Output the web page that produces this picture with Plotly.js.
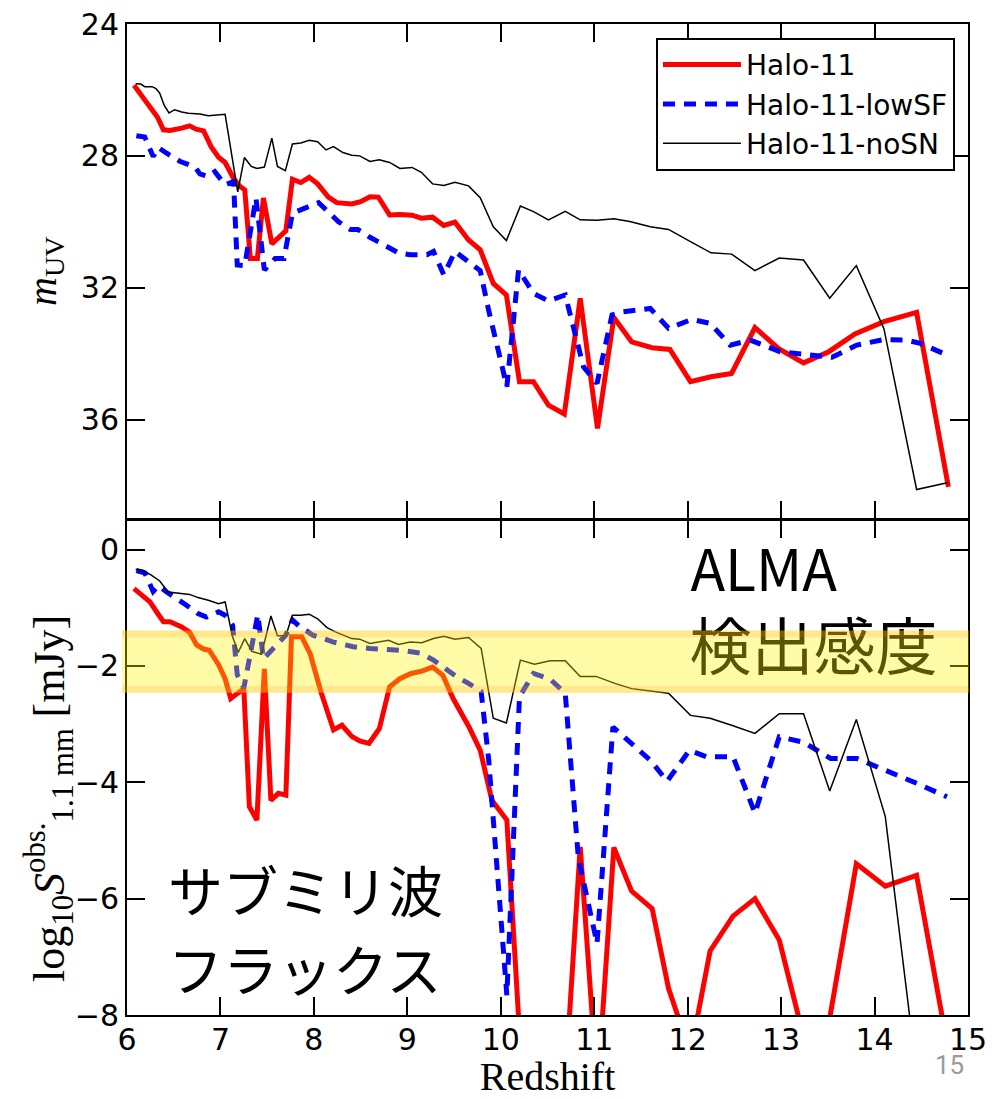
<!DOCTYPE html>
<html>
<head>
<meta charset="utf-8">
<script src="https://cdn.plot.ly/plotly-3.0.1.min.js"></script>
<style>
  html, body { margin: 0; padding: 0; background: #ffffff; }
  #chart { width: 1007px; height: 1099px; }
</style>
</head>
<body>
<div id="chart"></div>
<script>
// ---- Halo-11 (fiducial run) ----
const zHalo11Top = [6.075,6.157,6.246,6.325,6.39,6.46,6.585,6.67,6.74,6.82,6.90,6.98,7.05,7.14,7.21,7.26,7.32,7.395,7.46,7.55,7.70,7.77,7.86,7.95,8.04,8.155,8.245,8.405,8.50,8.60,8.69,8.81,8.92,9.05,9.15,9.27,9.39,9.51,9.655,9.78,9.92,10.06,10.20,10.35,10.51,10.68,10.85,11.035,11.21,11.40,11.62,11.81,12.03,12.25,12.47,12.72,12.97,13.24,13.51,13.79,14.10,14.45,14.79];
const mUVHalo11 = [25.86,26.18,26.55,26.82,27.21,27.23,27.16,27.09,27.19,27.24,27.72,28.04,28.20,28.68,28.93,29.03,31.11,31.11,29.28,30.67,30.27,28.71,28.81,28.65,28.85,29.25,29.42,29.46,29.39,29.24,29.25,29.79,29.78,29.80,29.89,29.86,30.11,30.01,30.55,30.85,31.87,32.22,34.85,34.85,35.56,35.83,32.32,36.27,32.90,33.64,33.82,33.87,34.85,34.70,34.60,33.21,33.84,34.28,33.94,33.40,33.03,32.75,38.04];
const zHalo11Bot = [6.075,6.157,6.246,6.325,6.39,6.46,6.585,6.67,6.745,6.82,6.88,6.98,7.05,7.11,7.21,7.25,7.31,7.39,7.47,7.54,7.62,7.70,7.76,7.87,7.96,8.08,8.21,8.30,8.405,8.49,8.59,8.70,8.81,8.92,9.04,9.155,9.27,9.38,9.49,9.66,9.78,9.905,10.065,10.20,10.35,10.51,10.68,10.85,11.035,11.21,11.40,11.62,11.795,12.03,12.24,12.485,12.72,12.98,13.24,13.51,13.805,14.115,14.45,14.79];
const logSHalo11 = [-0.67,-0.785,-0.90,-1.09,-1.24,-1.24,-1.33,-1.42,-1.64,-1.71,-1.73,-1.98,-2.22,-2.56,-2.45,-2.39,-4.42,-4.65,-2.05,-4.31,-4.19,-4.22,-1.50,-1.50,-1.79,-2.47,-3.10,-3.02,-3.21,-3.29,-3.33,-3.08,-2.36,-2.22,-2.13,-2.09,-2.02,-2.16,-2.56,-3.05,-3.45,-4.31,-4.65,-8.3,-10.0,-10.5,-9.4,-5.11,-9.3,-5.12,-5.87,-6.17,-7.54,-8.66,-6.90,-6.30,-6.00,-6.71,-8.37,-8.15,-5.40,-5.785,-5.60,-8.62];

// ---- Halo-11-lowSF ----
const zLowSFTop = [6.10,6.19,6.28,6.335,6.425,6.57,6.73,6.78,6.87,6.94,7.05,7.14,7.18,7.26,7.38,7.47,7.585,7.68,7.77,7.85,7.94,8.05,8.17,8.26,8.39,8.47,8.60,8.69,8.82,8.905,9.03,9.21,9.28,9.39,9.51,9.655,9.78,9.87,10.03,10.065,10.19,10.35,10.51,10.69,10.885,11.03,11.19,11.31,11.60,11.795,12.045,12.24,12.455,12.67,12.99,13.38,13.545,13.81,14.10,14.35,14.49,14.775];
const mUVLowSF = [27.39,27.43,28.02,27.75,27.92,28.17,28.34,28.55,28.63,28.48,28.88,28.78,31.31,31.33,29.28,31.46,31.11,31.11,29.74,29.64,29.54,29.42,29.74,29.99,30.23,30.23,30.47,30.60,30.80,30.94,31.00,31.00,30.90,31.61,30.90,31.21,31.48,32.68,34.55,35.0,31.46,32.17,32.40,32.22,34.40,34.90,32.83,32.73,32.63,33.23,32.96,33.08,33.74,33.59,33.94,34.07,34.11,33.74,33.57,33.59,33.69,34.04];
const zLowSFBot = [6.10,6.19,6.28,6.335,6.425,6.57,6.64,6.76,6.85,6.98,7.05,7.13,7.18,7.25,7.40,7.46,7.57,7.70,7.77,7.85,7.99,8.21,8.42,8.60,8.92,9.14,9.28,9.40,9.53,9.655,9.79,9.87,10.03,10.065,10.20,10.35,10.53,10.69,10.83,11.03,11.20,11.42,11.60,11.78,12.02,12.20,12.485,12.72,12.98,13.24,13.53,13.81,14.06,14.30,14.455,14.775];
const logSLowSF = [-0.36,-0.40,-0.72,-0.62,-0.73,-0.87,-0.96,-1.10,-1.16,-1.07,-1.13,-1.30,-2.15,-2.38,-1.12,-1.88,-1.70,-1.47,-1.21,-1.33,-1.47,-1.59,-1.67,-1.70,-1.73,-1.78,-1.90,-2.04,-2.19,-2.30,-2.44,-3.6,-6.94,-7.66,-2.53,-2.13,-2.23,-2.47,-5.3,-6.77,-3.05,-3.36,-3.62,-3.98,-3.45,-3.56,-3.56,-4.53,-3.22,-3.31,-3.59,-3.59,-3.76,-3.90,-4.02,-4.25];

// ---- Halo-11-noSN ----
const zNoSNTop = [6.093,6.147,6.19,6.27,6.31,6.35,6.40,6.45,6.51,6.585,6.656,6.78,6.87,6.977,7.05,7.185,7.256,7.33,7.39,7.47,7.55,7.61,7.695,7.77,7.86,7.95,8.04,8.13,8.21,8.31,8.405,8.49,8.60,8.70,8.81,8.92,9.05,9.15,9.27,9.39,9.51,9.655,9.78,9.92,10.06,10.21,10.35,10.51,10.69,10.85,11.03,11.21,11.38,11.60,11.795,12.03,12.25,12.47,12.72,12.98,13.24,13.52,13.805,14.10,14.45,14.79];
const mUVNoSN = [25.81,25.82,25.90,25.90,25.96,26.10,26.48,26.70,26.60,26.67,26.71,26.73,26.78,26.76,26.74,29.09,28.05,28.32,28.38,28.34,27.46,28.32,28.45,27.64,27.61,27.53,27.57,27.82,27.72,27.90,27.98,28.00,28.17,28.12,28.20,28.38,28.35,28.50,28.85,28.90,28.80,28.91,29.27,30.15,30.57,29.52,29.69,29.94,29.68,29.94,29.95,29.91,29.99,30.15,30.23,30.60,30.94,30.98,31.48,31.10,31.16,32.32,31.33,33.24,38.12,37.91];
const zNoSNBot = [6.093,6.175,6.26,6.35,6.44,6.55,6.67,6.76,6.87,6.98,7.05,7.13,7.19,7.26,7.335,7.44,7.54,7.61,7.70,7.77,7.86,7.95,8.04,8.14,8.23,8.405,8.49,8.60,8.80,8.905,9.03,9.155,9.28,9.39,9.51,9.655,9.79,9.92,10.06,10.21,10.36,10.53,10.69,10.85,11.02,11.22,11.40,11.60,11.795,12.03,12.24,12.47,12.72,12.98,13.24,13.52,13.805,14.115,14.45,14.79];
const logSNoSN = [-0.34,-0.36,-0.44,-0.54,-0.73,-0.745,-0.77,-0.825,-0.87,-0.93,-0.90,-1.50,-1.77,-1.53,-1.75,-1.80,-1.14,-1.48,-1.48,-1.13,-1.13,-1.11,-1.19,-1.34,-1.415,-1.53,-1.54,-1.615,-1.56,-1.63,-1.59,-1.60,-1.53,-1.49,-1.54,-1.51,-1.70,-2.90,-2.98,-1.90,-1.97,-1.91,-1.91,-2.18,-2.18,-2.30,-2.39,-2.43,-2.47,-2.85,-2.90,-3.02,-3.16,-2.82,-2.82,-4.15,-2.92,-4.59,-9.0,-9.3];

// ---- axes ----
const redshiftTicks = [6,7,8,9,10,11,12,13,14,15];
const mUVTicks = [24,28,32,36];
const logSTicks = [0,-2,-4,-6,-8];

// ALMA sensitivity range, log10 S [mJy]
const almaRangeHigh = -1.39;
const almaRangeLow = -2.46;

const runs = [
  { name: 'Halo-11',       zTop: zHalo11Top, mUV: mUVHalo11, zBot: zHalo11Bot, logS: logSHalo11,
    line: { color: '#ff0000', width: 5 } },
  { name: 'Halo-11-lowSF', zTop: zLowSFTop,  mUV: mUVLowSF,  zBot: zLowSFBot,  logS: logSLowSF,
    line: { color: '#0000ff', width: 5, dash: '12px,9px' } },
  { name: 'Halo-11-noSN',  zTop: zNoSNTop,   mUV: mUVNoSN,   zBot: zNoSNBot,   logS: logSNoSN,
    line: { color: '#000000', width: 1.5 } }
];

const traces = [];
runs.forEach(r => {
  traces.push({
    type: 'scatter', mode: 'lines', name: r.name,
    x: r.zTop, y: r.mUV, xaxis: 'x2', yaxis: 'y',
    line: Object.assign({ shape: 'linear' }, r.line),
    legendgroup: r.name, hoverinfo: 'skip'
  });
});
runs.forEach(r => {
  traces.push({
    type: 'scatter', mode: 'lines', name: r.name,
    x: r.zBot, y: r.logS, xaxis: 'x', yaxis: 'y2',
    line: Object.assign({ shape: 'linear' }, r.line),
    legendgroup: r.name, showlegend: false, hoverinfo: 'skip'
  });
});

// panel captions (drawn beneath the translucent sensitivity band)
traces.push({
  type: 'scatter', mode: 'text', xaxis: 'x', yaxis: 'y2',
  x: [12.03, 12.02, 6.44, 6.44],
  y: [-0.47, -1.81, -6.0, -7.35],
  text: ['ALMA', '検出感度', 'サブミリ波', 'フラックス'],
  textposition: 'middle right',
  textfont: { family: 'Noto Sans CJK JP', size: [57, 62, 55, 55], color: '#000000' },
  showlegend: false, hoverinfo: 'skip', cliponaxis: false
});

const axisBase = {
  showline: true, linecolor: '#000000', linewidth: 2, mirror: 'ticks',
  ticks: 'inside', ticklen: 18, tickwidth: 2, tickcolor: '#000000',
  showgrid: false, zeroline: false,
  tickfont: { family: 'DejaVu Sans', size: 30, color: '#000000' }
};
const serifTitle = { family: 'Liberation Serif', size: 40, color: '#000000' };

const edge = 0.12;
const bandShapes = [
  { y0: almaRangeLow + edge, y1: almaRangeHigh - edge, fillcolor: 'rgba(255,243,0,0.35)' },
  { y0: almaRangeHigh - edge, y1: almaRangeHigh, fillcolor: 'rgba(255,206,0,0.45)' },
  { y0: almaRangeLow, y1: almaRangeLow + edge, fillcolor: 'rgba(255,206,0,0.45)' }
].map(s => Object.assign({
  type: 'rect', layer: 'above', xref: 'paper', yref: 'y2',
  x0: -0.006, x1: 1.001, line: { width: 0 }
}, s));

const layout = {
  width: 1007, height: 1099,
  margin: { l: 127, r: 39, t: 24, b: 84 },
  paper_bgcolor: '#ffffff', plot_bgcolor: '#ffffff',
  showlegend: true,
  legend: {
    x: 0.9845, xanchor: 'right', y: 0.986, yanchor: 'top',
    bgcolor: '#ffffff', bordercolor: '#000000', borderwidth: 2,
    font: { family: 'DejaVu Sans', size: 28, color: '#000000' },
    traceorder: 'normal', itemwidth: 78
  },
  xaxis: Object.assign({}, axisBase, {
    domain: [0, 1], anchor: 'y2', range: [6, 15], tickvals: redshiftTicks,
    ticklabelstandoff: -3,
    title: { text: 'Redshift', font: serifTitle, standoff: 12 }
  }),
  xaxis2: Object.assign({}, axisBase, {
    domain: [0, 1], anchor: 'y', range: [6, 15], matches: 'x',
    tickvals: redshiftTicks, showticklabels: false
  }),
  yaxis: Object.assign({}, axisBase, {
    domain: [0.501, 1], anchor: 'x2', range: [39, 24], tickvals: mUVTicks,
    title: { text: '<i>m</i><sub>UV</sub>', font: serifTitle, standoff: 12 }
  }),
  yaxis2: Object.assign({}, axisBase, {
    domain: [0, 0.499], anchor: 'x', range: [-8, 0.5], tickvals: logSTicks
  }),
  shapes: bandShapes,
  annotations: [
    {
      text: 'log<sub>10</sub><i>S</i><sup>obs.</sup><sub>1.1 mm</sub> [mJy]',
      xref: 'paper', yref: 'paper', x: -0.0927, y: 0.218,
      xanchor: 'center', yanchor: 'middle', textangle: -90, showarrow: false,
      font: { family: 'Liberation Serif', size: 44, color: '#000000' }
    },
    {
      text: '15', xref: 'paper', yref: 'paper', x: 0.978, y: -0.0500,
      xanchor: 'center', yanchor: 'middle', showarrow: false,
      font: { family: 'Roboto', size: 26, color: '#9a9a9a' }
    }
  ]
};

Plotly.newPlot('chart', traces, layout, { displayModeBar: false, staticPlot: true });
</script>
</body>
</html>
